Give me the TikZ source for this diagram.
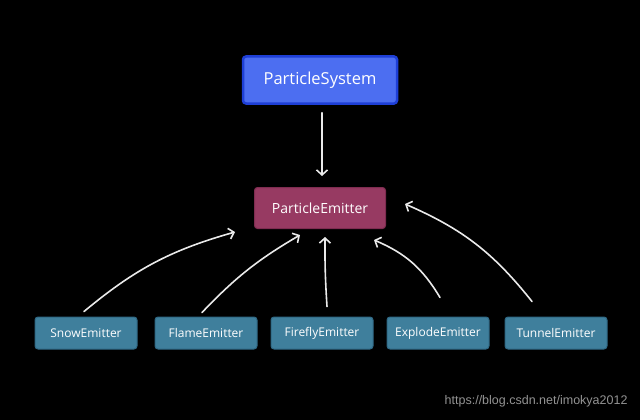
\documentclass[tikz,border=0pt]{standalone}
\usepackage{fontspec}
\setmainfont{Open Sans}
\setsansfont{Liberation Sans}
\usepackage{xcolor}
\usetikzlibrary{arrows.meta}

\definecolor{systemFill}{HTML}{4C6EF1}
\definecolor{systemLine}{HTML}{1E3FD6}
\definecolor{emitterFill}{HTML}{973A62}
\definecolor{emitterLine}{HTML}{7E2C50}
\definecolor{childFill}{HTML}{3F7F9C}
\definecolor{childLine}{HTML}{2F6884}
\definecolor{arrowWhite}{HTML}{EAEAEA}

\begin{document}
\begin{tikzpicture}[x=1pt, y=-1pt]
			\def\rowY{333};
			\def\boxW{102pt};

			\tikzset{
				box/.style={rounded corners=3pt, text=white, align=center, inner sep=0pt},
				systemBox/.style={box, fill=systemFill, draw=systemLine, line width=2.5pt,
					minimum width=154pt, minimum height=47pt, font=\fontsize{16.5}{19}\selectfont},
				emitterBox/.style={box, fill=emitterFill, draw=emitterLine, line width=1pt,
					minimum width=131pt, minimum height=41pt, font=\fontsize{14}{16}\selectfont},
				childBox/.style={box, fill=childFill, draw=childLine, line width=1pt,
					minimum width=\boxW, minimum height=32pt, font=\fontsize{12}{14}\selectfont},
				link/.style={draw=arrowWhite, line width=1.6pt, line cap=round,
					-{Straight Barb[length=5pt, width=11pt]}}
			}

			\newcommand{\drawEmitter}[3]
			{
				\node [childBox] (#1) at (#2,\rowY) {#3}
			}

			% background
			\fill [black] (0,0) rectangle (640,420);

			\begin{scope}
				\node [systemBox] (system) at (320,80) {ParticleSystem};
				\node [emitterBox] (emitter) at (320,208) {ParticleEmitter};
			\end{scope}

			\begin{scope}
				\drawEmitter{snow}{86}{SnowEmitter};
				\drawEmitter{flame}{206}{FlameEmitter};
				\drawEmitter{firefly}{322}{FireflyEmitter};
				\drawEmitter{explode}{438}{ExplodeEmitter};
				\drawEmitter{tunnel}{556}{TunnelEmitter};
			\end{scope}

			\begin{scope}[link]
				\draw ([xshift=2pt, yshift=-8pt]system.south) -- ([xshift=2pt, yshift=11pt]emitter.north);
				\draw ([xshift=-2pt, yshift=5pt]snow.north) to [bend left=12] ([xshift=-19pt, yshift=-3pt]emitter.south west);
				\draw ([xshift=-4pt, yshift=4pt]flame.north) to [bend left=8] ([xshift=-20pt, yshift=-6pt]emitter.south);
				\draw ([xshift=5pt, yshift=10pt]firefly.north) to [bend left=2] ([xshift=5pt, yshift=-8pt]emitter.south);
				\draw ([xshift=2pt, yshift=19pt]explode.north) to [bend right=18] ([xshift=-12pt, yshift=-11pt]emitter.south east);
				\draw ([xshift=-24pt, yshift=15pt]tunnel.north) to [bend right=14] ([xshift=19pt, yshift=4pt]emitter.east);
			\end{scope}

			\node [text=gray!85, font=\sffamily\fontsize{12.5}{14}\selectfont, anchor=east] (mark) at (631,401) {https://blog.csdn.net/imokya2012};
		\end{tikzpicture}
\end{document}
